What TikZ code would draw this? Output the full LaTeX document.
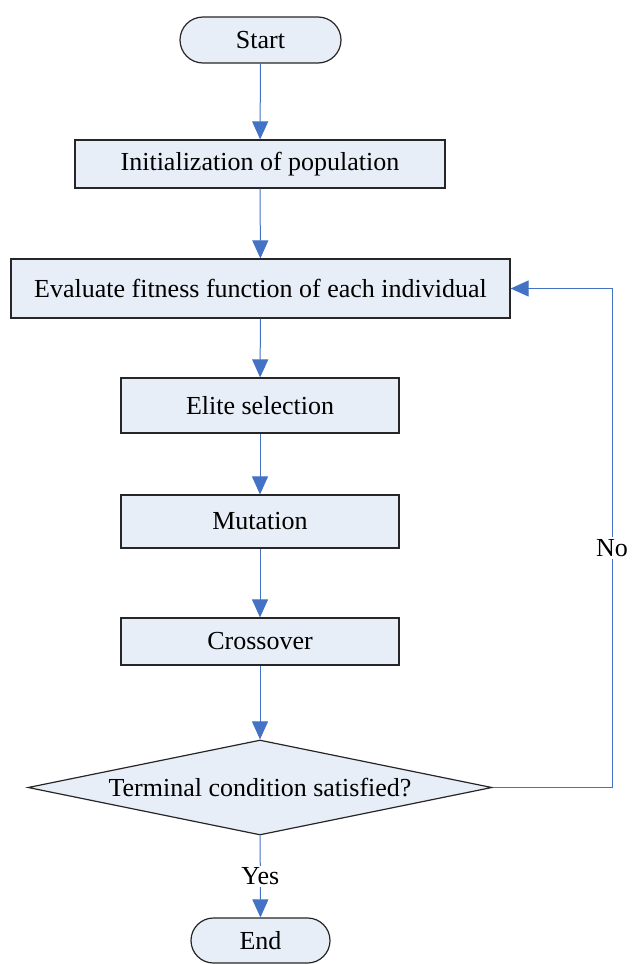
\documentclass[tikz,border=0pt]{standalone}
\usepackage{fontspec}
\setmainfont{Liberation Serif}
\usepackage{tikz}
\definecolor{myblue}{RGB}{68,114,196}
\definecolor{myfill}{RGB}{232,238,247}
\usetikzlibrary{positioning}
\usetikzlibrary{arrows.meta}
\usetikzlibrary{shapes,calc}

\begin{document}
\begin{tikzpicture}[x=0.5pt,y=-0.5pt,font=\fontsize{13}{15}\selectfont]
	\useasboundingbox (0,0) rectangle (632,964);

	\begin{scope}[every node/.style={fill=myfill,draw=black!85,line width=0.6pt,rectangle,inner sep=0pt}]
	    \node (A) [rounded corners=11.5pt,minimum width=80.5pt,minimum height=23pt] at (260.5,40) {Start};
	    \node (B) [minimum width=185pt,minimum height=24pt] at (260,164) {Initialization of population};
	    \node (C) [minimum width=249.5pt,minimum height=29.5pt] at (260.5,288.5) {Evaluate fitness function of each individual};
	    \node (D) [minimum width=139pt,minimum height=27.5pt] at (260,405.5) {Elite selection};
	    \node (E) [minimum width=139pt,minimum height=26.5pt] at (260,521.5) {Mutation};
	    \node (F) [minimum width=139pt,minimum height=23.5pt] at (260,641.5) {Crossover};
	    \node (G) [diamond,aspect=4.9,minimum width=232pt,minimum height=47.5pt] at (260,787.5) {Terminal condition satisfied?};
	    \node (H) [rounded corners=11.25pt,minimum width=69.5pt,minimum height=22.5pt] at (260.5,940.5) {End};
	\end{scope}

	\begin{scope}[>={Triangle[width=8pt,length=9pt]},
	              every edge/.style={draw=myblue,line width=0.5pt}]
	    \path [->] (A) edge (B);
	    \path [->] (B) edge (C);
	    \path [->] (C) edge (D);
	    \path [->] (D) edge (E);
	    \path [->] (E) edge (F);
	    \path [->] (F) edge (G);
	    \path [->] (G) edge node[fill=white,inner sep=1pt] {Yes} (H);
	    % loop back when the condition fails
	    \coordinate (back) at (612,787.5);
	    \draw [->,myblue,line width=0.5pt] (G.east) -- (back) |- node[pos=0.24,fill=white,text=black,inner sep=1pt] {No} (C.east);
	\end{scope}
\end{tikzpicture}
\end{document}
